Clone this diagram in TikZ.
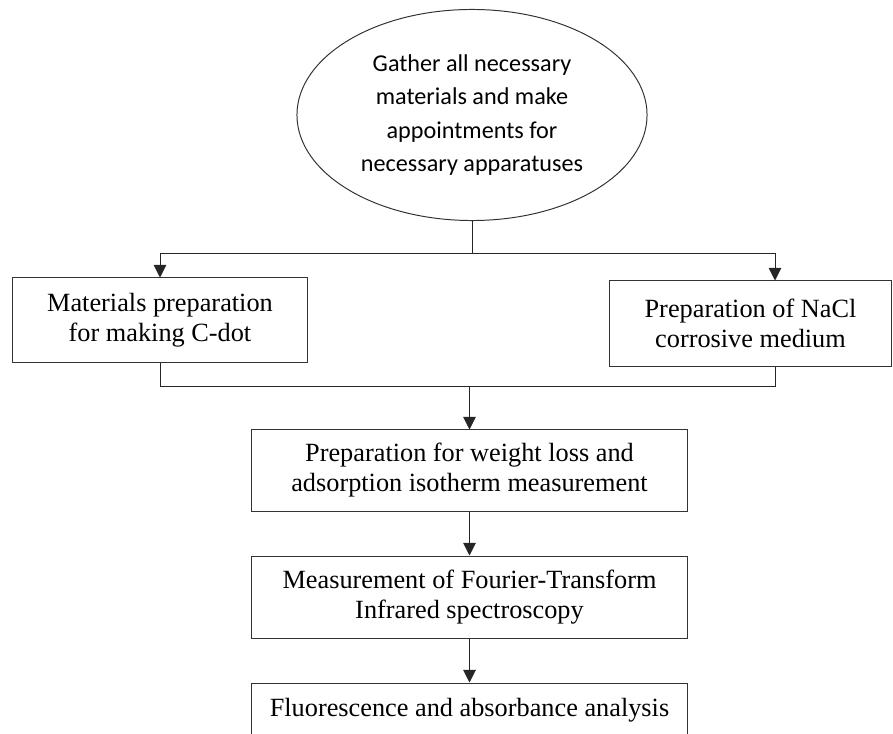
\documentclass[tikz,border=0pt]{standalone}
\usepackage{fontspec}
\setmainfont{Liberation Serif}
\newfontfamily\ellipsefont{Carlito}
\usepackage{tikz}
\usetikzlibrary{shapes, shapes.geometric, arrows, arrows.meta, calc}

\begin{document}
\begin{tikzpicture}[x=0.025cm, y=-0.025cm, >={Triangle[width=9pt, length=9pt]}]
    % Styles
    \tikzstyle{goal} = [ellipse, draw=black!80, line width=0.7pt, inner sep=0pt, minimum width=8.75cm, minimum height=5.275cm, align=center, font=\ellipsefont\fontsize{17.2}{23.9}\selectfont]
    \tikzstyle{block} = [rectangle, draw=black!80, line width=0.7pt, align=center, inner sep=0pt, font=\fontsize{18.7}{21.3}\selectfont]
    \tikzstyle{line} = [draw, black!85, line width=0.7pt]
    \tikzstyle{arrow} = [line, ->]

    \useasboundingbox (0,0) rectangle (893,734);

    % Nodes
    \node [goal] (gather) at (472,115) {Gather all necessary\\materials and make\\appointments for\\necessary apparatuses};
    \node [block, minimum width=7.375cm, minimum height=2.1cm] (matprep) at (160,320) {Materials preparation\\for making C-dot};
    \node [block, minimum width=7.025cm, minimum height=2.125cm] (nacl) at (750.5,323.5) {Preparation of NaCl\\corrosive medium};
    \node [block, minimum width=10.875cm, minimum height=2.025cm] (weight) at (469.5,470.5) {Preparation for weight loss and\\adsorption isotherm measurement};
    \node [block, minimum width=10.875cm, minimum height=2.05cm] (ftir) at (469.5,597) {Measurement of Fourier-Transform\\Infrared spectroscopy};
    \node [block, minimum width=10.875cm, minimum height=1.35cm] (fluor) at (469.5,710) {Fluorescence and absorbance analysis};

    % Junctions
    \coordinate (split) at (472,253);
    \coordinate (merge) at (469.5,386);
    \coordinate (rcol) at (775,0);

    % Paths
    \path [line] (gather.south) -- (split);
    \path [arrow] (split) -| (matprep.north);
    \path [arrow] (split) -| (rcol |- nacl.north);
    \path [line] (matprep.south) |- (merge);
    \path [line] (rcol |- nacl.south) |- (merge);
    \path [arrow] (merge) -- (weight.north);
    \path [arrow] (weight) -- (ftir);
    \path [arrow] (ftir) -- (fluor);

\end{tikzpicture}
\end{document}
